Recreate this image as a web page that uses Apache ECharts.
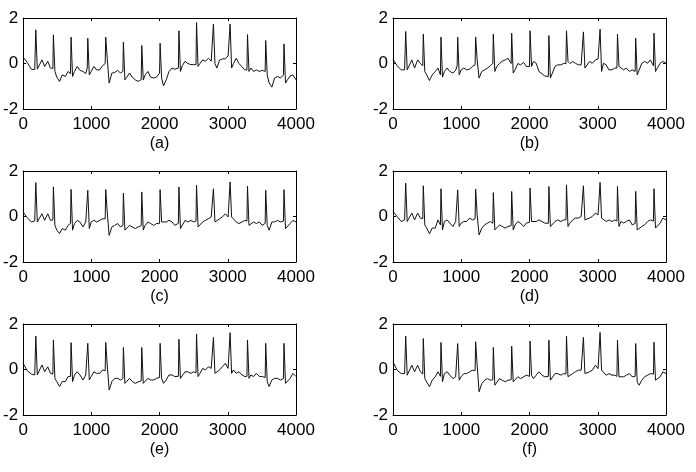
<!DOCTYPE html>
<html>
<head>
<meta charset="utf-8">
<script src="https://cdn.jsdelivr.net/npm/echarts@6/dist/echarts.min.js"></script>
<style>
  html, body { margin: 0; padding: 0; background: #fff; }
  #chart { width: 696px; height: 472px; }
</style>
</head>
<body>
<div id="chart"></div>
<script>
  // sample positions (shared by all six traces)
  const sampleX = [
    0, 60, 120, 170,
    178, 186, 208, 236, 276, 316, 361, 401,
    436, 444, 466, 494, 534, 574, 619, 659,
    695, 703, 725, 753, 793, 833, 878, 918,
    940, 948, 970, 998, 1038, 1078, 1123, 1163,
    1203, 1211, 1233, 1261, 1301, 1341, 1386, 1426,
    1462, 1470, 1492, 1520, 1560, 1600, 1645, 1685,
    1731, 1739, 1761, 1789, 1829, 1869, 1914, 1954,
    2000, 2008, 2030, 2058, 2098, 2138, 2183, 2223,
    2276, 2284, 2306, 2334, 2374, 2414, 2459, 2499,
    2534, 2542, 2564, 2592, 2632, 2672, 2717, 2757,
    2782, 2790, 2812, 2840, 2880, 2920, 2965, 3005,
    3026, 3034, 3056, 3084, 3124, 3164, 3209, 3249,
    3281, 3289, 3311, 3339, 3379, 3419, 3464, 3504,
    3548, 3556, 3578, 3606, 3646, 3686, 3731, 3771,
    3816, 3824, 3846, 3874, 3914, 3954,
    4000
  ]

  const sigA = [
    0.28, 0.05, -0.25, -0.27,
    -0.25, 1.48, -0.25, -0.2, 0.16, -0.13, 0.1, -0.2,
    -0.22, 1.26, -0.35, -0.6, -0.79, -0.5, -0.57, -0.35,
    -0.45, 1.16, -0.57, -0.35, -0.13, -0.3, -0.35, -0.45,
    -0.2, 1.11, -0.5, -0.35, -0.13, -0.28, -0.28, -0.1,
    0.0, 1.16, 0.23, -0.86, -0.42, -0.4, -0.3, -0.42,
    -0.35, 0.94, -0.72, -0.6, -0.42, -0.6, -0.72, -0.79,
    -0.7, 0.79, -0.72, -0.5, -0.35, -0.6, -0.64, -0.6,
    -0.42, 0.89, -0.64, -0.98, -0.72, -0.35, -0.2, -0.25,
    -0.2, 1.44, -0.35, -0.1, 0.1, 0.0, -0.05, -0.05,
    -0.05, 1.8, -0.13, 0.0, 0.16, 0.1, 0.23, 0.1,
    0.1, 1.74, 0.0, -0.2, 0.15, 0.2, 0.2, 0.34,
    0.3, 1.74, -0.2, 0.0, 0.23, 0.0, -0.15, -0.28,
    -0.28, 1.27, -0.35, -0.2, -0.35, -0.28, -0.35, -0.3,
    -0.35, 1.01, -0.5, -0.85, -1.04, -0.64, -0.57, -0.64,
    -0.5, 0.86, -0.86, -0.72, -0.55, -0.5,
    -0.72
  ]

  const sigB = [
    0.19, -0.1, -0.28, -0.28,
    -0.28, 1.41, -0.28, -0.2, 0.16, -0.2, 0.16, 0.0,
    -0.1, 1.29, -0.35, -0.5, -0.75, -0.5, -0.35, -0.2,
    -0.5, 1.16, -0.6, -0.35, -0.2, -0.35, -0.42, -0.3,
    -0.1, 1.16, -0.5, -0.28, -0.2, -0.28, -0.25, -0.13,
    -0.06, 1.16, 0.16, -0.64, -0.35, -0.28, -0.2, -0.1,
    0.0, 1.29, -0.35, -0.13, 0.0, 0.1, 0.16, 0.23,
    0.0, 1.33, -0.42, -0.28, 0.0, -0.06, 0.05, -0.13,
    -0.13, 1.44, -0.13, 0.09, 0.01, -0.35, -0.45, -0.55,
    -0.57, 1.23, -0.64, -0.57, -0.13, -0.06, -0.06, 0.0,
    0.0, 1.44, 0.09, 0.0, 0.09, 0.01, -0.06, -0.06,
    -0.06, 1.39, -0.2, -0.13, 0.09, 0.01, 0.16, 0.2,
    0.2, 1.51, -0.35, 0.01, -0.06, -0.28, -0.28, -0.2,
    -0.2, 1.29, -0.13, -0.2, -0.28, -0.2, -0.35, -0.28,
    -0.35, 1.11, -0.5, -0.57, 0.01, 0.09, 0.01, 0.16,
    -0.1, 1.33, -0.35, -0.35, 0.01, 0.09,
    0.01
  ]

  const sigC = [
    0.2, -0.05, -0.24, -0.2,
    -0.2, 1.49, -0.24, -0.17, 0.12, -0.17, 0.12, -0.17,
    -0.15, 1.3, -0.39, -0.6, -0.75, -0.53, -0.6, -0.39,
    -0.3, 1.19, -0.6, -0.31, -0.17, -0.24, -0.46, -0.24,
    -0.2, 1.15, -0.53, -0.24, -0.17, -0.24, -0.17, -0.1,
    -0.1, 1.19, 0.2, -0.83, -0.46, -0.39, -0.31, -0.46,
    -0.4, 1.03, -0.6, -0.53, -0.39, -0.46, -0.53, -0.46,
    -0.4, 1.08, -0.6, -0.39, -0.24, -0.31, -0.39, -0.31,
    -0.3, 1.18, -0.24, -0.31, -0.24, -0.17, -0.24, -0.39,
    -0.3, 1.3, -0.53, -0.53, -0.17, -0.24, -0.17, -0.24,
    -0.2, 1.37, -0.46, -0.46, -0.24, -0.17, -0.1, -0.02,
    -0.05, 1.22, -0.24, -0.17, -0.1, -0.02, 0.12, -0.02,
    0.0, 1.52, -0.02, -0.02, -0.24, -0.31, -0.24, -0.17,
    -0.2, 1.33, -0.39, -0.31, -0.24, -0.31, -0.24, -0.39,
    -0.3, 1.15, -0.39, -0.6, -0.24, -0.24, -0.17, -0.24,
    -0.2, 1.18, -0.53, -0.53, -0.31, -0.17,
    -0.24
  ]

  const sigD = [
    0.22, 0.0, -0.22, -0.15,
    -0.2, 1.47, -0.22, -0.15, 0.15, -0.15, 0.15, -0.07,
    -0.1, 1.35, -0.37, -0.51, -0.76, -0.51, -0.51, -0.15,
    -0.37, 1.22, -0.59, -0.22, -0.15, -0.29, -0.44, -0.22,
    -0.2, 1.17, -0.44, -0.29, -0.22, -0.22, -0.07, -0.15,
    -0.1, 1.2, 0.07, -0.81, -0.51, -0.37, -0.29, -0.22,
    -0.3, 1.05, -0.59, -0.51, -0.37, -0.44, -0.51, -0.44,
    -0.4, 1.1, -0.59, -0.37, -0.22, -0.29, -0.44, -0.29,
    -0.25, 1.25, -0.22, -0.29, -0.22, -0.15, -0.22, -0.29,
    -0.3, 1.32, -0.44, -0.51, -0.22, -0.15, -0.22, -0.15,
    -0.15, 1.39, -0.44, -0.29, -0.15, -0.07, -0.07, 0.0,
    -0.05, 1.35, -0.15, -0.15, -0.07, 0.0, 0.15, 0.07,
    0.05, 1.5, -0.07, -0.15, -0.22, -0.15, -0.22, -0.15,
    -0.2, 1.32, -0.44, -0.22, -0.29, -0.22, -0.15, -0.37,
    -0.3, 1.1, -0.59, -0.66, -0.44, -0.37, -0.22, -0.15,
    -0.2, 1.22, -0.51, -0.51, -0.29, -0.07,
    -0.15
  ]

  const sigE = [
    0.27, -0.05, -0.2, -0.24,
    -0.24, 1.47, -0.24, -0.17, 0.2, -0.1, 0.12, -0.17,
    -0.2, 1.3, -0.39, -0.53, -0.75, -0.53, -0.53, -0.31,
    -0.3, 1.18, -0.53, -0.24, -0.1, -0.24, -0.46, -0.24,
    -0.25, 1.15, -0.46, -0.31, -0.1, -0.17, -0.17, -0.02,
    -0.05, 1.19, 0.2, -0.9, -0.53, -0.39, -0.39, -0.46,
    -0.4, 0.97, -0.61, -0.68, -0.39, -0.53, -0.61, -0.55,
    -0.5, 0.97, -0.61, -0.53, -0.39, -0.46, -0.46, -0.39,
    -0.35, 1.15, -0.39, -0.61, -0.46, -0.24, -0.24, -0.31,
    -0.3, 1.33, -0.39, -0.31, -0.1, -0.1, -0.17, -0.1,
    -0.15, 1.56, -0.31, -0.17, 0.05, -0.02, 0.12, 0.05,
    0.0, 1.41, -0.17, -0.24, -0.02, 0.12, 0.27, 0.05,
    0.05, 1.62, -0.17, -0.02, -0.17, -0.1, -0.24, -0.31,
    -0.3, 1.3, -0.39, -0.24, -0.31, -0.17, -0.31, -0.31,
    -0.35, 1.15, -0.53, -0.75, -0.46, -0.39, -0.39, -0.46,
    -0.4, 1.15, -0.61, -0.53, -0.39, -0.17,
    -0.31
  ]

  const sigF = [
    0.34, -0.03, -0.18, -0.18,
    -0.2, 1.47, -0.25, -0.18, 0.19, -0.1, 0.19, -0.1,
    -0.2, 1.36, -0.4, -0.32, -0.76, -0.47, -0.32, -0.1,
    -0.3, 1.19, -0.54, -0.18, -0.1, -0.25, -0.4, -0.32,
    -0.3, 1.14, -0.47, -0.32, -0.18, -0.18, -0.1, -0.03,
    -0.05, 1.22, 0.19, -0.98, -0.62, -0.47, -0.4, -0.47,
    -0.45, 0.97, -0.69, -0.62, -0.4, -0.47, -0.54, -0.47,
    -0.45, 1.03, -0.54, -0.47, -0.32, -0.4, -0.32, -0.25,
    -0.3, 1.25, -0.25, -0.4, -0.25, -0.1, -0.25, -0.32,
    -0.3, 1.29, -0.47, -0.47, -0.18, -0.18, -0.25, -0.18,
    -0.2, 1.47, -0.32, -0.4, -0.18, -0.1, -0.03, -0.03,
    -0.05, 1.41, -0.18, -0.25, -0.1, -0.03, 0.19, 0.04,
    0.0, 1.63, -0.03, -0.1, -0.25, -0.18, -0.25, -0.25,
    -0.3, 1.29, -0.32, -0.25, -0.32, -0.25, -0.18, -0.32,
    -0.3, 1.14, -0.54, -0.69, -0.47, -0.32, -0.25, -0.18,
    -0.2, 1.2, -0.47, -0.47, -0.32, -0.1,
    -0.18
  ]

  const captions = ['(a)', '(b)', '(c)', '(d)', '(e)', '(f)']
  const signals = [sigA, sigB, sigC, sigD, sigE, sigF]
  const xRange = [0, 4000]
  const xStep = 1000
  const yRange = [-2, 2]
  const yStep = 2

  // layout of the 3x2 panels
  const colLeft = [23, 393]
  const rowTop = [18, 171, 324]
  const boxW = 273
  const boxH = 91
  const font = 'Liberation Sans'

  const grid = [], xAxis = [], yAxis = [], series = [], title = []
  const tick = { show: true, inside: true, length: 3, lineStyle: { color: '#000', width: 1 } }
  const line = { show: true, onZero: false, lineStyle: { color: '#000', width: 1 } }
  const label = { color: '#000', fontFamily: font, fontSize: 17, formatter: v => String(v) }

  signals.forEach((sig, i) => {
    const left = colLeft[i % 2]
    const top = rowTop[Math.floor(i / 2)]
    grid.push({ left: left, top: top, width: boxW, height: boxH, show: false })

    const xBase = { type: 'value', gridIndex: i, min: xRange[0], max: xRange[1], interval: xStep,
      splitLine: { show: false }, axisLine: line, axisTick: tick }
    xAxis.push(Object.assign({}, xBase, { position: 'bottom',
      axisLabel: Object.assign({ margin: 7 }, label) }))
    xAxis.push(Object.assign({}, xBase, { position: 'top', axisLabel: { show: false } }))

    const yBase = { type: 'value', gridIndex: i, min: yRange[0], max: yRange[1], interval: yStep,
      splitLine: { show: false }, axisLine: line, axisTick: tick }
    yAxis.push(Object.assign({}, yBase, { position: 'left',
      axisLabel: Object.assign({ margin: 5 }, label) }))
    yAxis.push(Object.assign({}, yBase, { position: 'right', axisLabel: { show: false } }))

    series.push({
      type: 'line',
      xAxisIndex: i * 2,
      yAxisIndex: i * 2,
      data: sampleX.map((x, k) => [x, sig[k]]),
      symbol: 'none',
      lineStyle: { color: '#111', width: 1 },
      silent: true
    })

    title.push({
      text: captions[i],
      left: left + boxW / 2,
      top: top + boxH + 27,
      textAlign: 'center',
      textStyle: { color: '#000', fontFamily: font, fontSize: 16, fontWeight: 'normal' },
      padding: 0
    })
  })

  const myChart = echarts.init(document.getElementById('chart'))
  myChart.setOption({
    animation: false,
    backgroundColor: '#fff',
    title: title,
    grid: grid,
    xAxis: xAxis,
    yAxis: yAxis,
    series: series
  })
</script>
</body>
</html>
